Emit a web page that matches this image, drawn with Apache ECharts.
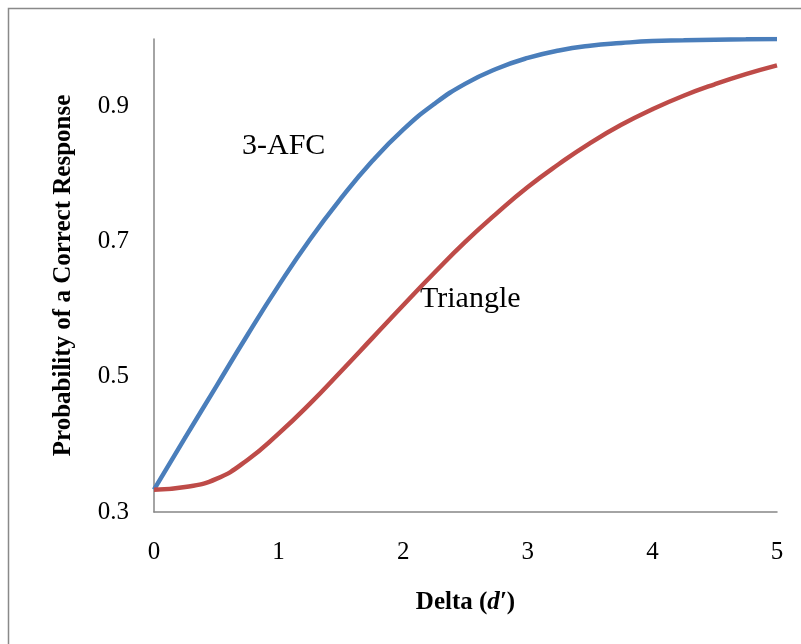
<!DOCTYPE html>
<html>
<head>
<meta charset="utf-8">
<script src="https://cdn.jsdelivr.net/npm/echarts@6/dist/echarts.min.js"></script>
<style>
  html, body { margin: 0; padding: 0; background: #fff; }
  #main { width: 801px; height: 644px; }
</style>
</head>
<body>
<div id="main"></div>
<script>
// delta (d') values on the x axis
const deltaValues = [0, 0.25, 0.5, 0.75, 1, 1.25, 1.5, 1.75, 2, 2.25, 2.5, 2.75, 3, 3.25, 3.5, 3.75, 4, 4.25, 4.5, 4.75, 5];
// probability of a correct response
const afcValues = [0.333, 0.41, 0.486, 0.562, 0.635, 0.703, 0.764, 0.819, 0.866, 0.904, 0.934, 0.956, 0.972, 0.983, 0.990, 0.994, 0.997, 0.998, 0.999, 0.9995, 1.0];
const triangleValues = [0.333, 0.337, 0.349, 0.377, 0.416, 0.46, 0.508, 0.557, 0.606, 0.654, 0.700, 0.742, 0.781, 0.815, 0.846, 0.873, 0.896, 0.916, 0.933, 0.948, 0.961];
const seriesNames = ['3-AFC', 'Triangle'];

const font = '"Liberation Serif", "Times New Roman", serif';

function pairs(xs, ys) {
  return xs.map((x, i) => [x, ys[i]]);
}

let chart = echarts.init(document.getElementById('main'), null, { renderer: 'canvas' });

let option = {
  backgroundColor: '#fff',
  animation: false,
  grid: { left: 154, right: 24, top: 39, bottom: 132 },
  xAxis: {
    type: 'value',
    min: 0,
    max: 5,
    interval: 1,
    name: '{b|Delta (}{i|d′}{b|)}',
    nameLocation: 'middle',
    nameGap: 78,
    nameTextStyle: {
      rich: {
        b: { fontFamily: font, fontSize: 25, fontWeight: 'bold', color: '#000' },
        i: { fontFamily: font, fontSize: 25, fontWeight: 'bold', fontStyle: 'italic', color: '#000' }
      }
    },
    axisLine: { lineStyle: { color: '#868686', width: 1.5 } },
    axisTick: { show: false },
    splitLine: { show: false },
    axisLabel: { fontFamily: font, fontSize: 25, color: '#000', margin: 28 }
  },
  yAxis: {
    type: 'value',
    min: 0.3,
    max: 1.0,
    interval: 0.2,
    name: 'Probability of a Correct Response',
    nameLocation: 'middle',
    nameGap: 78,
    nameTextStyle: { fontFamily: font, fontSize: 25, fontWeight: 'bold', color: '#000' },
    axisLine: { show: true, lineStyle: { color: '#868686', width: 1.5 } },
    axisTick: { show: false },
    splitLine: { show: false },
    axisLabel: {
      fontFamily: font, fontSize: 25, color: '#000', margin: 25,
      showMaxLabel: false,
      formatter: v => v.toFixed(1)
    }
  },
  series: [
    {
      name: seriesNames[0],
      type: 'line',
      smooth: true,
      showSymbol: false,
      lineStyle: { color: '#4a7ebb', width: 4.5 },
      data: pairs(deltaValues, afcValues)
    },
    {
      name: seriesNames[1],
      type: 'line',
      smooth: true,
      showSymbol: false,
      lineStyle: { color: '#be4b48', width: 4.5 },
      data: pairs(deltaValues, triangleValues)
    }
  ],
  graphic: [
    {
      type: 'rect',
      shape: { x: 8.5, y: 8.5, width: 820, height: 660 },
      style: { fill: 'none', stroke: '#898989', lineWidth: 1.5 },
      silent: true
    },
    {
      type: 'text',
      x: 242,
      y: 146,
      style: { text: seriesNames[0], font: '30px ' + font, fill: '#000', textVerticalAlign: 'middle' }
    },
    {
      type: 'text',
      x: 420,
      y: 299,
      style: { text: seriesNames[1], font: '30px ' + font, fill: '#000', textVerticalAlign: 'middle' }
    }
  ]
};

chart.setOption(option);
</script>
</body>
</html>
